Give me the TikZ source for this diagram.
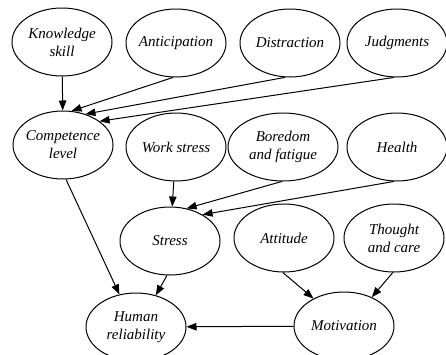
\documentclass[tikz,border=0pt]{standalone}
\usepackage{fontspec}
\setmainfont{Liberation Serif}
\usetikzlibrary{positioning, arrows.meta, shapes.geometric}

\begin{document}
\begin{tikzpicture}[x=1pt, y=-1pt,
    factor/.style={ellipse,
    draw=black, % Ellipse colour (edge).
    line width=1pt,
    inner xsep=-8pt,
    inner ysep=0pt,
    minimum width=100pt,
    minimum height=68pt,
    align=center,
    font=\fontsize{15}{18}\selectfont\itshape},
    arrow/.style={line width=1pt, -{Triangle[length=10pt, width=7.5pt]}}]

        \useasboundingbox (0,0) rectangle (446,354);

        % Nodes.
        \node[factor] (know) at (62,42) {Knowledge\\skill};
        \node[factor] (antic) at (176,43) {Anticipation};
        \node[factor] (distr) at (290,43) {Distraction};
        \node[factor] (judg) at (397,43) {Judgments};

        \node[factor] (comp) at (63,145) {Competence\\level};
        \node[factor] (work) at (176,147) {Work stress};
        \node[factor, minimum width=110pt] (bore) at (283,147) {Boredom\\and fatigue};
        \node[factor] (health) at (397,147) {Health};

        \node[factor] (stress) at (170,241) {Stress};
        \node[factor] (att) at (284,238) {Attitude};
        \node[factor] (thought) at (394,238) {Thought\\and care};

        \node[factor] (human) at (136,327) {Human\\reliability};
        \node[factor] (motiv) at (344,326) {Motivation};

        % Straight edges.
        \foreach \i/\j in {know/comp, work/stress, motiv/human}
        \draw[arrow] (\i) -- (\j);

        % Edges with chosen anchors.
        \foreach \i/\j in {antic.265/comp.76, distr.262/comp.54, judg.265/comp.33,
                           bore.268/stress.63, health.265/stress.39,
                           comp.275/human.117, stress.265/human.58,
                           att.268/motiv.138, thought.268/motiv.46}
        \draw[arrow] (\i) -- (\j);
    \end{tikzpicture}
\end{document}
